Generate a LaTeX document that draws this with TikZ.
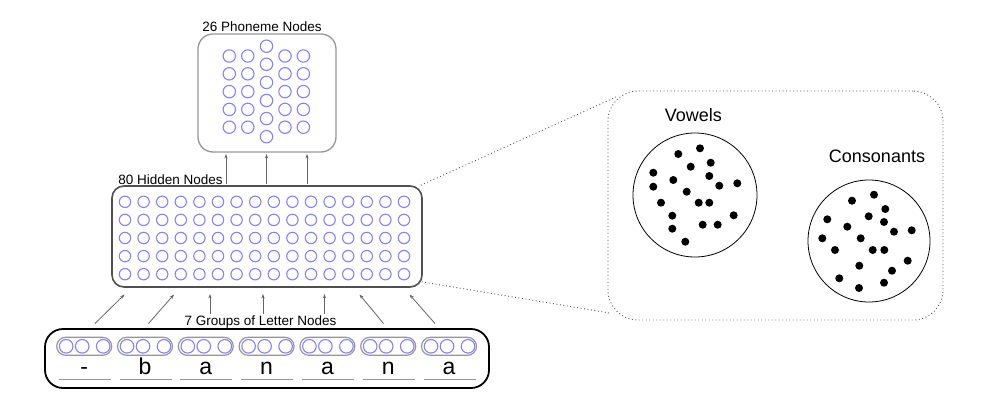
\documentclass[tikz,border=0pt]{standalone}
\usepackage{fontspec}
\setmainfont{Liberation Sans}
\usetikzlibrary{arrows.meta}
\definecolor{nblue}{RGB}{130,130,255}
\definecolor{boxgray}{RGB}{150,150,150}
\definecolor{darkbox}{RGB}{80,80,80}
\definecolor{arrgray}{RGB}{100,100,100}
\tikzset{
  unit/.style={draw=nblue, line width=1.1pt},
  title/.style={anchor=base, inner sep=0pt, font=\fontsize{13.5}{16}\selectfont},
  bigtitle/.style={anchor=base, inner sep=0pt, font=\fontsize{18}{21}\selectfont},
  letter/.style={anchor=base, inner sep=0pt, font=\fontsize{23}{26}\selectfont},
  pill/.style={draw=boxgray, line width=1.2pt, rounded corners=9pt, minimum width=55pt, minimum height=18pt, inner sep=0pt},
  conn/.style={draw=arrgray, line width=0.8pt, -{Stealth[length=4.5pt,width=3.2pt]}},
  dotline/.style={draw=darkbox, line width=0.9pt, dash pattern=on 0.9pt off 2.6pt},
  dotfill/.style={fill=black},
  uline/.style={draw=boxgray, line width=0.8pt}
}
\begin{document}
\begin{tikzpicture}[x=1pt,y=-1pt]
\useasboundingbox (0,0) rectangle (983,402);

% Phoneme box
\node[draw=boxgray, line width=1.3pt, rounded corners=15pt, minimum width=138pt, minimum height=118pt, inner sep=0pt] (phon) at (267,93) {};
\node[title] (phont) at (262,31.5) {26 Phoneme Nodes};
\foreach \x in {229.3,247.8,285,303.4}{
  \foreach \k in {0,...,4}{
    \draw[unit] (\x,56+17.8*\k) circle (6.2);
  }
}
\foreach \k in {0,...,5}{
  \draw[unit] (266.5,46.2+18.1*\k) circle (6.2);
}

% Hidden box
\node[draw=darkbox, line width=1.6pt, rounded corners=12pt, minimum width=310pt, minimum height=101pt, inner sep=0pt] (hid) at (267,236.5) {};
\node[title] (hidt) at (170.5,184) {80 Hidden Nodes};
\foreach \c in {0,...,15}{
  \foreach \r in {0,...,4}{
    \draw[unit] (125+18.6*\c,201.8+18.1*\r) circle (5.7);
  }
}

% Input box
\node[draw=black, line width=1.8pt, rounded corners=18pt, minimum width=444pt, minimum height=59pt, inner sep=0pt] (inp) at (267,358.5) {};
\node[title] (inpt) at (260.5,325) {7 Groups of Letter Nodes};
\foreach \l [count=\i from 0] in {-,b,a,n,a,n,a}{
  \pgfmathsetmacro{\gx}{56.7+60.8*\i}
  \node[pill] (g\i) at (\gx+27.5,346.3) {};
  \draw[unit] (\gx+9.5,346.3) circle (6.8);
  \draw[unit] (\gx+25.5,346.3) circle (6.8);
  \draw[unit] (\gx+46.5,346.3) circle (6.8);
  \node[letter] (l\i) at (\gx+27.5,374.5) {\l};
  \draw[uline] (\gx+2,379.5) -- (\gx+54,379.5);
}

% Arrows hidden -> phoneme
\foreach \x [count=\i] in {226,266.5,307}{
  \coordinate (hu\i) at (\x,183.5);
  \coordinate (pu\i) at (\x,154);
  \draw[conn] (hu\i) -- (pu\i);
}

% Arrows input -> hidden
\coordinate (ia1) at (95,323.5);  \coordinate (ha1) at (124.5,294.5);
\coordinate (ia2) at (148.5,323.5); \coordinate (ha2) at (174,294.5);
\coordinate (ia3) at (210,313.5); \coordinate (ha3) at (210,294);
\coordinate (ia4) at (263,313.5); \coordinate (ha4) at (263,294);
\coordinate (ia5) at (324.5,313.5); \coordinate (ha5) at (324.5,294);
\coordinate (ia6) at (383.5,323.5); \coordinate (ha6) at (359.5,294.5);
\coordinate (ia7) at (435,323.5); \coordinate (ha7) at (409.5,294.5);
\foreach \i in {1,...,7}{
  \draw[conn] (ia\i) -- (ha\i);
}

% Dotted zoom box
\node[dotline, rounded corners=30pt, minimum width=335pt, minimum height=229pt, inner sep=0pt] (zoom) at (775.5,205.5) {};
\coordinate (zt) at (616,97);
\coordinate (zb) at (609.5,313);
\draw[dotline] (hid.north east) ++(-2,0) -- (zt);
\draw[dotline] (hid.south east) ++(-1,-6) -- (zb);

% Vowels
\node[bigtitle] (vt) at (693.3,121.5) {Vowels};
\node[draw=black, line width=0.8pt, circle, minimum size=124pt, inner sep=0pt] (vow) at (695,195) {};
\foreach \p in {(678.3,154),(700,148.3),(690.7,166.7),(710.7,162.7),(653.3,172.7),(673.3,180),(709.3,176),(653.3,186.7),(686.7,191.7),(719.3,185.7),(737.3,183.3),(661,202.7),(698.7,202.7),(709.3,202.7),(672.3,215.7),(733.7,215.3),(702.7,224.7),(717.7,224.7),(672.3,228.7),(685.3,241.7)}{
  \fill[dotfill] \p circle (4);
}

% Consonants
\node[bigtitle] (ct) at (877,162.5) {Consonants};
\node[draw=black, line width=0.8pt, circle, minimum size=122pt, inner sep=0pt] (cons) at (869,241) {};
\foreach \p in {(852,200.7),(874,194.7),(885.3,209),(868.7,216.3),(827.3,219.3),(847.3,226.7),(884,222),(894,231.7),(911.7,230.3),(822.3,238.3),(860.7,238.3),(835,250),(872.7,250),(884.3,250),(907.7,260.7),(859.3,265.7),(892,270.7),(839.3,278.3),(859,288),(884,282.7)}{
  \fill[dotfill] \p circle (4);
}
\end{tikzpicture}
\end{document}
